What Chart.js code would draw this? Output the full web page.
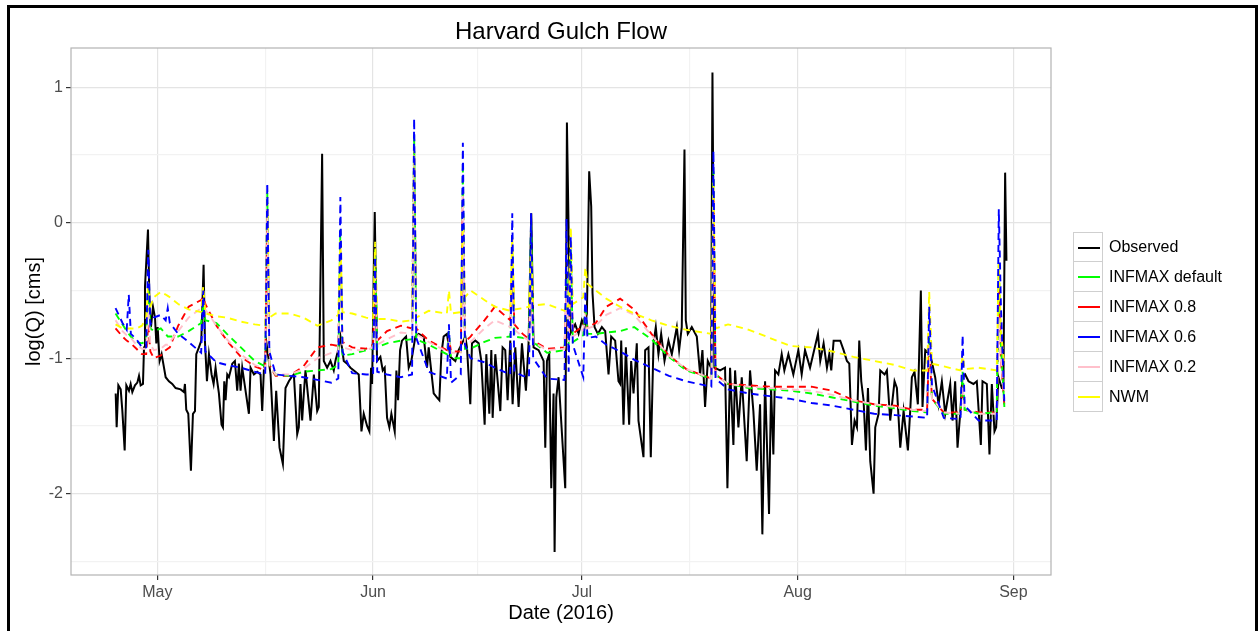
<!DOCTYPE html>
<html lang="en">
<head>
<meta charset="UTF-8">
<title>Harvard Gulch Flow</title>
<script src="https://cdn.jsdelivr.net/npm/chart.js"></script>
<style>
  body { margin: 0; background: #fff; font-family: "Liberation Sans", Arial, sans-serif; }
  #wrap { position: relative; width: 1258px; height: 631px; overflow: hidden; }
  #frame { position: absolute; left: 7px; top: 5px; width: 1251px; height: 700px; border: 3px solid #000; box-sizing: border-box; }
  #title { position: absolute; left: 71px; width: 980px; top: 17px; text-align: center; font-size: 24px; color: #000; }
  #legend { position: absolute; left: 1073px; top: 232px; }
  .row { height: 30px; display: flex; align-items: center; }
  .key { width: 30px; height: 30px; box-sizing: border-box; border: 1px solid #cfcfcf; border-top: none; position: relative; }
  .row:first-child .key { border-top: 1px solid #cfcfcf; }
  .key span { position: absolute; left: 4px; top: 14px; width: 22px; height: 2px; }
  .lbl { margin-left: 6px; font-size: 16px; color: #000; }
</style>
</head>
<body>
<div id="wrap">
  <canvas id="grafica" width="1258" height="631"></canvas>
  <div id="frame"></div>
  <div id="title">Harvard Gulch Flow</div>
  <div id="legend"></div>
</div>
<script>
// days counted from 1 May 2016
const obsDays = [
  -5.98, -5.84, -5.6, -5.26, -5.02, -4.69, -4.45, -4.07, -3.83, -3.59,
  -3.21, -2.87, -2.63, -2.39, -2.06, -1.91, -1.77, -1.34, -1.1, -0.91,
  -0.62, -0.33, -0.14, 0.05, 0.33, 0.62, 0.86, 1.2, 1.67, 2.15,
  2.63, 3.35, 3.83, 3.97, 4.16, 4.45, 4.83, 5.12, 5.41, 5.6,
  5.98, 6.32, 6.65, 6.84, 7.13, 7.42, 7.8, 8.09, 8.37, 8.61,
  8.85, 9.23, 9.43, 9.62, 9.81, 10.05, 10.29, 10.77, 11.15, 11.48,
  11.72, 11.96, 12.2, 13.16, 13.4, 13.88, 14.35, 14.83, 15.07, 15.31,
  15.69, 16.27, 16.75, 17.08, 17.56, 18.04, 18.42, 18.9, 19.28, 19.62,
  20.1, 20.33, 20.57, 20.81, 21.05, 21.29, 22.01, 22.49, 22.97,
  23.2, 23.68, 23.92, 24.4, 24.88, 25.35, 25.59, 25.98, 26.31, 26.79,
  27.27, 27.75, 28.46, 28.94, 29.33, 29.66, 30.14, 30.47, 30.71, 30.86,
  31.24, 31.57, 32.05, 32.39, 32.67, 33.01, 33.34, 33.63, 34.11, 34.35,
  34.59, 34.88, 35.16, 35.74, 36.12, 36.5, 37.08, 37.56, 38.27, 38.75,
  38.99, 39.71, 40.19, 40.52, 40.81, 41.14, 41.62, 42.1, 42.82, 43.3,
  43.78, 44.25, 44.49, 44.97, 45.21, 45.69, 46.17, 46.55, 47.03, 47.27,
  47.7, 47.99, 48.18, 48.56, 49.28, 49.61, 49.99, 50.33, 50.71, 51.05,
  51.43, 51.91, 52.39, 52.96, 53.34, 53.73, 54.06, 54.78, 55.5, 55.74,
  55.98, 56.31, 56.6, 56.93, 57.08, 57.32, 57.65, 58.61, 58.85,
  59.33, 60.04, 60.52, 61.0, 61.38, 61.72, 62.05, 62.34, 62.53, 62.82,
  63.3, 63.87, 64.35, 64.83, 65.21, 65.78, 66.26, 66.5, 66.65, 66.98,
  67.32, 67.79, 68.08, 68.42, 68.89, 69.13, 69.85, 70.09, 70.57, 70.9,
  71.29, 71.62, 72.0, 72.39, 72.87, 73.44, 73.92, 74.64, 74.97, 75.35,
  75.74, 75.93, 76.22, 76.79, 77.51, 77.99, 78.32, 78.7, 79.09, 79.56,
  79.76, 80.04, 80.86, 81.57, 81.91, 82.29, 82.77, 83.01, 83.49, 83.97,
  84.68, 85.16, 85.64, 86.12, 86.6, 86.93, 87.32, 87.89, 88.18, 88.51,
  88.75, 89.23, 89.71, 90.09, 90.67, 91.38, 92.1, 92.58, 93.06, 93.78,
  94.92, 95.25, 95.73, 96.21, 96.55, 96.83, 97.17, 98.12, 98.6, 99.08,
  99.42, 99.8, 100.18, 100.52, 100.85, 101.14, 101.47, 101.81, 102.1, 102.43,
  102.91, 103.15, 103.39, 103.63, 103.87, 104.49, 104.82, 105.3, 105.92, 106.26,
  106.74, 107.22, 107.84, 108.17, 108.41, 108.79, 109.27, 109.7, 109.94, 110.33,
  111.04, 111.76, 112.24, 112.72, 113.2, 113.92, 114.25, 114.63, 114.97, 115.35,
  115.68, 116.07, 116.55, 117.26, 117.74, 118.32, 118.56, 119.18, 119.56, 119.9,
  120.28, 120.52, 120.85, 121.33, 121.56, 121.81, 122.0
];
const obsValues = [
  -1.26, -1.51, -1.20, -1.23, -1.39, -1.68, -1.20, -1.24, -1.19, -1.25,
  -1.20, -1.18, -1.13, -1.20, -1.19, -0.92, -0.47, -0.05, -0.65, -0.77,
  -0.62, -0.70, -0.89, -0.77, -1.02, -0.97, -1.04, -1.14, -1.17, -1.19,
  -1.22, -1.23, -1.25, -1.19, -1.38, -1.41, -1.83, -1.41, -1.39, -0.97,
  -0.92, -0.87, -0.31, -0.87, -1.17, -0.97, -1.12, -1.19, -1.07, -1.17,
  -1.26, -1.49, -1.51, -1.17, -1.31, -1.12, -1.14, -1.04, -1.02, -1.24,
  -1.04, -1.24, -1.07, -1.41, -1.07, -1.12, -1.10, -1.12, -1.39, -1.09,
  -0.89, -1.12, -1.61, -1.24, -1.66, -1.78, -1.22, -1.17, -1.14, -1.12,
  -1.56, -1.51, -1.19, -1.46, -1.26, -1.09, -1.46, -1.12, -1.39,
  -1.36, 0.51, -1.02, -1.07, -1.02, -1.09, -1.02, -0.94, -0.84, -1.02,
  -1.04, -1.07, -1.10, -1.12, -1.54, -1.41, -1.50, -1.54, -1.07, -1.19,
  0.08, -1.02, -0.99, -1.09, -1.07, -1.44, -1.51, -1.41, -1.54, -1.09,
  -1.31, -0.94, -0.87, -0.84, -1.07, -1.02, -0.84, -0.82, -0.84, -1.07,
  -0.92, -1.26, -1.29, -1.31, -0.97, -0.84, -0.82, -0.99, -1.02, -0.94,
  -0.89, -0.84, -0.92, -1.34, -0.89, -0.87, -0.89, -1.02, -1.49, -0.97,
  -1.41, -0.94, -1.44, -0.97, -1.39, -0.92, -0.94, -1.31, -0.87, -1.34,
  -0.92, -1.36, -0.89, -1.24, -0.89, 0.07, -0.92, -0.94, -1.02, -1.66,
  -1.02, -0.97, -1.96, -1.26, -2.43, -1.29, -1.14, -1.96, 0.74,
  -0.82, -0.75, -0.82, -0.72, -0.77, -0.67, 0.38, 0.12, -0.52, -0.77,
  -0.82, -0.77, -0.80, -1.12, -0.84, -0.87, -1.17, -1.19, -0.87, -1.49,
  -0.92, -1.49, -1.02, -1.26, -0.89, -1.46, -1.73, -0.94, -0.92, -1.73,
  -0.89, -0.77, -0.97, -0.82, -1.02, -0.87, -0.97, -0.77, -0.94, -0.77,
  0.54, -0.72, -0.82, -0.77, -0.84, -1.12, -0.94, -1.36, -1.02, -1.07,
  1.11, -1.07, -1.09, -1.07, -1.96, -1.07, -1.64, -1.09, -1.51, -1.14,
  -1.76, -1.09, -1.39, -1.83, -1.34, -2.30, -1.17, -2.15, -1.22, -1.71,
  -1.09, -1.12, -0.97, -1.09, -0.97, -1.12, -0.94, -1.12, -0.94, -1.07,
  -0.82, -1.02, -0.89, -1.07, -0.97, -1.09, -0.87, -0.87, -0.94, -1.02,
  -1.04, -1.64, -1.46, -1.51, -0.87, -1.17, -1.31, -1.68, -1.22, -1.76,
  -2.00, -1.51, -1.46, -1.41, -1.09, -1.12, -1.09, -1.46, -1.17, -1.22,
  -1.66, -1.39, -1.68, -1.39, -1.14, -1.10, -1.34, -0.50, -1.36, -0.94,
  -0.97, -1.14, -1.34, -1.17, -1.41, -1.19, -1.46, -1.17, -1.66, -1.41,
  -1.14, -1.12, -1.17, -1.19, -1.17, -1.64, -1.17, -1.19, -1.71, -1.19,
  -1.54, -1.51, -1.14, -1.22, -1.22, 0.37, -0.28
];

// model runs share one time axis
const modelDays = [
  -6, -5, -4.4, -4.1, -3.8, -3, -2.2, -1.6, -1.3, -1.0,
  -0.5, 0.5, 1.2, 1.5, 1.8, 3, 4.5, 6.3, 6.6, 6.9,
  8.5, 10, 12, 14, 15.5, 15.8, 16.1, 17, 19, 21,
  23, 25, 26.0, 26.3, 26.6, 28, 30, 31.0, 31.3, 31.6,
  33, 35, 36.6, 36.9, 37.2, 39, 41.6, 41.9, 42.2, 43.6,
  43.9, 44.2, 45, 47, 48.5, 50.7, 51.0, 51.3, 52.5, 53.4,
  53.7, 54.0, 56, 58.5, 58.8, 59.1, 59.4, 59.7, 61.2, 61.5,
  61.8, 63, 64.5, 66.5, 68.5, 71, 73.5, 76, 79.6, 79.9,
  80.2, 82, 85, 88, 91, 94, 97, 100, 103, 106,
  108.5, 110.6, 110.9, 111.3, 113, 115.4, 115.7, 116.0, 118, 120.6,
  120.9, 121.2, 121.7
];
const infmaxDefault = [
  -0.67, -0.75, -0.80, -0.82, -0.84, -0.88, -0.89, -0.87, -0.45, -0.78,
  -0.80, -0.78, -0.82, -0.84, -0.84, -0.84, -0.80, -0.74, -0.60, -0.72,
  -0.74, -0.82, -0.92, -1.02, -1.06, 0.22, -1.05, -1.12, -1.13, -1.10,
  -1.09, -1.08, -1.05, -0.05, -0.98, -0.97, -0.94, -0.93, -0.20, -0.92,
  -0.89, -0.87, -0.86, 0.65, -0.86, -0.90, -0.97, -0.80, -1.00, -1.00,
  0.40, -0.93, -0.93, -0.88, -0.85, -0.84, -0.20, -0.84, -0.85, -0.87,
  0.00, -0.88, -0.96, -0.94, -0.40, -0.90, -0.20, -0.88, -0.83, -0.60,
  -0.82, -0.82, -0.81, -0.80, -0.77, -0.86, -0.99, -1.09, -1.15, 0.38,
  -1.12, -1.19, -1.22, -1.23, -1.24, -1.26, -1.29, -1.32, -1.35, -1.37,
  -1.39, -1.40, -0.85, -1.30, -1.41, -1.41, -1.10, -1.38, -1.41, -1.40,
  -0.30, -0.90, -1.36
];
const infmax08 = [
  -0.78, -0.84, -0.87, -0.88, -0.89, -0.93, -0.97, -0.97, -0.75, -0.95,
  -1.00, -0.98, -0.94, -0.93, -0.92, -0.76, -0.62, -0.57, -0.55, -0.60,
  -0.76, -0.87, -0.99, -1.06, -1.09, 0.10, -1.05, -1.13, -1.13, -1.06,
  -0.92, -0.90, -0.91, -0.20, -0.88, -0.92, -0.93, -0.90, -0.40, -0.87,
  -0.80, -0.76, -0.78, 0.50, -0.78, -0.87, -0.94, -0.85, -0.95, -0.95,
  0.20, -0.88, -0.84, -0.72, -0.62, -0.72, -0.30, -0.75, -0.82, -0.86,
  -0.30, -0.87, -0.93, -0.92, -0.50, -0.88, -0.30, -0.82, -0.76, -0.65,
  -0.77, -0.74, -0.62, -0.56, -0.64, -0.82, -0.98, -1.08, -1.15, 0.20,
  -1.12, -1.19, -1.20, -1.21, -1.21, -1.21, -1.24, -1.31, -1.34, -1.35,
  -1.38, -1.38, -0.90, -1.30, -1.40, -1.40, -1.20, -1.38, -1.40, -1.40,
  -0.45, -1.00, -1.35
];
const infmax06 = [
  -0.63, -0.74, -0.79, -0.53, -0.82, -0.86, -0.92, -0.92, -0.20, -0.75,
  -0.70, -0.68, -0.72, -0.63, -0.74, -0.82, -0.88, -0.96, -0.50, -0.95,
  -1.03, -1.05, -1.07, -1.10, -1.12, 0.29, -0.95, -1.12, -1.13, -1.14,
  -1.16, -1.18, -1.15, 0.19, -0.95, -1.11, -1.12, -1.12, -0.25, -1.10,
  -1.12, -1.14, -1.12, 0.77, -0.85, -1.10, -1.15, -0.75, -1.18, -1.12,
  0.59, -0.90, -1.00, -1.03, -1.07, -1.12, 0.07, -1.10, -1.13, -1.14,
  0.07, -1.00, -1.15, -1.16, 0.03, -1.10, -0.10, -0.90, -1.14, -0.50,
  -0.85, -0.84, -0.90, -0.95, -1.01, -1.07, -1.13, -1.17, -1.21, 0.53,
  -1.15, -1.23, -1.26, -1.28, -1.30, -1.33, -1.35, -1.38, -1.41, -1.42,
  -1.43, -1.44, -0.62, -1.20, -1.44, -1.45, -0.83, -1.35, -1.46, -1.46,
  0.10, -0.60, -1.34
];
const infmax02 = [
  -0.72, -0.80, -0.83, -0.84, -0.85, -0.90, -0.93, -0.93, -0.60, -0.90,
  -0.94, -0.93, -0.90, -0.90, -0.88, -0.80, -0.70, -0.63, -0.58, -0.64,
  -0.76, -0.86, -0.97, -1.05, -1.08, 0.10, -1.05, -1.12, -1.12, -1.08,
  -1.00, -0.96, -0.95, -0.20, -0.92, -0.94, -0.94, -0.92, -0.40, -0.90,
  -0.86, -0.81, -0.82, 0.50, -0.82, -0.88, -0.95, -0.85, -0.96, -0.96,
  0.20, -0.90, -0.88, -0.78, -0.72, -0.77, -0.30, -0.79, -0.84, -0.87,
  -0.30, -0.88, -0.94, -0.93, -0.50, -0.88, -0.30, -0.84, -0.79, -0.70,
  -0.78, -0.76, -0.68, -0.63, -0.68, -0.83, -0.98, -1.08, -1.15, 0.20,
  -1.12, -1.19, -1.21, -1.22, -1.23, -1.24, -1.27, -1.31, -1.34, -1.36,
  -1.38, -1.39, -0.90, -1.30, -1.40, -1.41, -1.20, -1.38, -1.41, -1.41,
  -0.70, -1.00, -1.30
];
const nwm = [
  -0.75, -0.78, -0.78, -0.78, -0.78, -0.78, -0.76, -0.70, -0.44, -0.62,
  -0.55, -0.51, -0.53, -0.54, -0.55, -0.60, -0.64, -0.66, -0.47, -0.67,
  -0.69, -0.70, -0.73, -0.75, -0.76, 0.15, -0.70, -0.67, -0.67, -0.70,
  -0.76, -0.72, -0.68, -0.13, -0.66, -0.67, -0.70, -0.71, -0.14, -0.71,
  -0.71, -0.73, -0.72, 0.55, -0.70, -0.65, -0.67, -0.50, -0.67, -0.66,
  -0.05, -0.55, -0.50, -0.57, -0.62, -0.65, -0.10, -0.64, -0.63, -0.62,
  -0.20, -0.61, -0.60, -0.65, -0.60, -0.66, -0.03, -0.60, -0.55, -0.33,
  -0.45, -0.50, -0.56, -0.62, -0.67, -0.72, -0.76, -0.79, -0.82, 0.30,
  -0.78, -0.75, -0.79, -0.85, -0.91, -0.92, -0.95, -0.99, -1.02, -1.05,
  -1.09, -1.09, -0.51, -1.04, -1.06, -1.09, -0.98, -1.08, -1.07, -1.09,
  -0.30, -0.80, -1.05
];

const monthDays = [0, 31, 61, 92, 123];
const monthLabels = ['May', 'Jun', 'Jul', 'Aug', 'Sep'];
const midMonthDays = [15.5, 46, 76.5, 107.5];
const yTickValues = [-2.5, -2, -1.5, -1, -0.5, 0, 0.5, 1];

function pares(xs, ys) {
  return xs.map((x, i) => ({ x: x, y: ys[i] }));
}

function serie(label, xs, ys, color, dashed, order) {
  return {
    label: label,
    data: pares(xs, ys),
    borderColor: color,
    borderWidth: dashed ? 1.9 : 2,
    borderDash: dashed ? [7, 5] : [],
    pointRadius: 0,
    tension: 0,
    order: order
  };
}

// panel border drawn on top, like ggplot
const panelBorder = {
  id: 'panelBorder',
  afterDatasetsDraw(chart) {
    const a = chart.chartArea;
    const c = chart.ctx;
    c.save();
    c.strokeStyle = '#b3b3b3';
    c.lineWidth = 1.2;
    c.strokeRect(a.left, a.top, a.right - a.left, a.bottom - a.top);
    c.restore();
  }
};

Chart.defaults.font.family = '"Liberation Sans", Arial, sans-serif';

const isMajorY = v => Number.isInteger(v);
const isMajorX = v => monthDays.includes(v);

const chart = new Chart(document.getElementById('grafica'), {
  type: 'line',
  data: {
    datasets: [
      serie('Observed', obsDays, obsValues, '#000000', false, 5),
      serie('INFMAX default', modelDays, infmaxDefault, '#00ff00', true, 3),
      serie('INFMAX 0.8', modelDays, infmax08, '#ff0000', true, 4),
      serie('INFMAX 0.6', modelDays, infmax06, '#0000ff', true, 0),
      serie('INFMAX 0.2', modelDays, infmax02, '#ffc0cb', true, 2),
      serie('NWM', modelDays, nwm, '#ffff00', true, 1)
    ]
  },
  options: {
    responsive: false,
    animation: false,
    layout: { padding: { left: 8, right: 207, top: 48, bottom: 0 } },
    plugins: { legend: { display: false }, tooltip: { enabled: false } },
    scales: {
      x: {
        type: 'linear',
        min: -12.4,
        max: 128.4,
        afterBuildTicks: s => { s.ticks = monthDays.concat(midMonthDays).sort((a, b) => a - b).map(v => ({ value: v })); },
        afterFit: s => { s.height = 56; },
        ticks: {
          autoSkip: false,
          maxRotation: 0,
          padding: 3,
          color: '#4d4d4d',
          font: { size: 16 },
          callback: v => isMajorX(v) ? monthLabels[monthDays.indexOf(v)] : ''
        },
        grid: {
          color: ctx => (ctx.tick && isMajorX(ctx.tick.value)) ? '#e4e4e4' : '#f2f2f2',
          lineWidth: 1.2,
          tickLength: 5,
          tickColor: ctx => (ctx.tick && isMajorX(ctx.tick.value)) ? '#333333' : 'rgba(0,0,0,0)'
        },
        border: { display: false },
        title: { display: true, text: 'Date (2016)', color: '#000', font: { size: 20 }, padding: { top: 0, bottom: 6 } }
      },
      y: {
        min: -2.6,
        max: 1.29,
        afterBuildTicks: s => { s.ticks = yTickValues.map(v => ({ value: v })); },
        afterFit: s => { s.width = 63; },
        ticks: {
          padding: 3,
          color: '#4d4d4d',
          font: { size: 16 },
          callback: v => isMajorY(v) ? String(v) : ''
        },
        grid: {
          color: ctx => (ctx.tick && isMajorY(ctx.tick.value)) ? '#e4e4e4' : '#f2f2f2',
          lineWidth: 1.2,
          tickLength: 5,
          tickColor: ctx => (ctx.tick && isMajorY(ctx.tick.value)) ? '#333333' : 'rgba(0,0,0,0)'
        },
        border: { display: false },
        title: { display: true, text: 'log(Q) [cms]', color: '#000', font: { size: 20 }, padding: { top: 14, bottom: 0 } }
      }
    }
  },
  plugins: [panelBorder]
});

// legend box like ggplot's, built from the datasets
const legend = document.getElementById('legend');
chart.data.datasets.forEach(ds => {
  const row = document.createElement('div');
  row.className = 'row';
  row.innerHTML = `<div class="key"><span style="background:${ds.borderColor}"></span></div><div class="lbl">${ds.label}</div>`;
  legend.appendChild(row);
});
</script>
</body>
</html>
